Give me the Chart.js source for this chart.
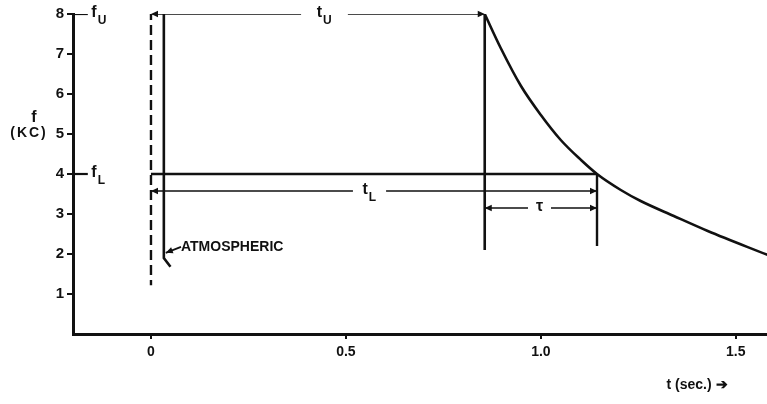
<!DOCTYPE html>
<html>
<head>
<meta charset="utf-8">
<script src="https://cdn.jsdelivr.net/npm/chart.js"></script>
<style>
  html, body { margin: 0; padding: 0; background: #fff; }
  #wrap { width: 767px; height: 404px; }
</style>
</head>
<body>
<div id="wrap"><canvas id="c" width="767" height="404"></canvas></div>
<script>
// --- values ---
const xTicks = [0, 0.5, 1.0, 1.5];
const xTickLabels = ['0', '0.5', '1.0', '1.5'];
const yTicks = [1, 2, 3, 4, 5, 6, 7, 8];

const fU = 8;          // upper frequency (kc)
const fL = 4;          // lower frequency (kc)
const tU = 0.856;      // arrival time at fU (s)
const tL = 1.144;      // arrival time at fL (s)

// dispersion curve (t, f)
const curveT = [0.856, 0.897, 0.949, 1.0, 1.051, 1.103, 1.144, 1.205, 1.256, 1.341, 1.428, 1.582];
const curveF = [8.0, 7.15, 6.2, 5.475, 4.85, 4.35, 4.0, 3.6, 3.325, 2.95, 2.575, 1.975];

// dashed reference line at t = 0
const dashT = [0, 0];
const dashF = [8.1, 1.22];

// atmospheric (source impulse) trace
const atmosT = [0.033, 0.033, 0.05];
const atmosF = [8.0, 1.9, 1.68];
const pointerT = [0.038, 0.077];
const pointerF = [2.03, 2.18];

// measuring arrows: y level and gap left for the label
const tUArrowF = 8.0,  tUGap = [0.385, 0.505];
const tLArrowF = 3.575, tLGap = [0.518, 0.603];
const tauArrowF = 3.15, tauGap = [0.967, 1.026];

const pts = (xs, ys) => xs.map((x, i) => ({ x: x, y: ys[i] }));
const arrowLine = (x0, x1, y, gap) => [
  { x: x0, y: y }, { x: gap[0], y: y }, { x: (gap[0] + gap[1]) / 2, y: null },
  { x: gap[1], y: y }, { x: x1, y: y }
];

Chart.defaults.font.family = "'Liberation Sans', Arial, sans-serif";
Chart.defaults.color = '#000';

const ink = '#111';

const datasets = [
  { data: pts(curveT, curveF), borderWidth: 2.6, cubicInterpolationMode: 'monotone' },
  { data: pts(dashT, dashF), borderWidth: 2.4, borderDash: [10, 5] },
  { data: pts(atmosT, atmosF), borderWidth: 2.6 },
  { data: pts(pointerT, pointerF), borderWidth: 1.8, arrowStart: true },
  { data: [{ x: tU, y: 8.15 }, { x: tU, y: 2.1 }], borderWidth: 2.6 },
  { data: [{ x: tL, y: fL }, { x: tL, y: 2.2 }], borderWidth: 2.4 },
  { data: [{ x: 0, y: fL }, { x: tL, y: fL }], borderWidth: 2.6 },
  { data: [{ x: -0.2, y: fU }, { x: -0.162, y: fU }], borderWidth: 2.2 },
  { data: [{ x: -0.2, y: fL }, { x: -0.162, y: fL }], borderWidth: 2.2 },
  { data: arrowLine(0, tU, tUArrowF, tUGap), borderWidth: 1.6, arrowStart: true, arrowEnd: true },
  { data: arrowLine(0, tL, tLArrowF, tLGap), borderWidth: 1.6, arrowStart: true, arrowEnd: true },
  { data: arrowLine(tU, tL, tauArrowF, tauGap), borderWidth: 1.6, arrowStart: true, arrowEnd: true }
].map(d => Object.assign({ showLine: true, borderColor: ink, pointRadius: 0, spanGaps: false, fill: false }, d));

// text labels placed in data coordinates
const labels = [
  { x: -0.153, y: fU, main: 'f', sub: 'U', align: 'left' },
  { x: -0.153, y: fL, main: 'f', sub: 'L', align: 'left' },
  { x: 0.4445, y: tUArrowF, main: 't', sub: 'U', align: 'center' },
  { x: 0.560, y: tLArrowF, main: 't', sub: 'L', align: 'center' },
  { x: 0.9965, y: tauArrowF, main: '\u03C4', sub: '', align: 'center' }
];

function drawArrow(ctx, tip, from) {
  const dx = tip.x - from.x, dy = tip.y - from.y;
  const len = Math.hypot(dx, dy) || 1;
  const ux = dx / len, uy = dy / len;
  const L = 7, W = 3.2;
  ctx.beginPath();
  ctx.moveTo(tip.x, tip.y);
  ctx.lineTo(tip.x - ux * L - uy * W, tip.y - uy * L + ux * W);
  ctx.lineTo(tip.x - ux * L + uy * W, tip.y - uy * L - ux * W);
  ctx.closePath();
  ctx.fill();
}

const annotate = {
  id: 'annotate',
  afterDatasetsDraw(chart) {
    const { ctx, scales: { x, y } } = chart;
    ctx.save();
    ctx.fillStyle = ink;

    // arrowheads
    chart.data.datasets.forEach((ds, i) => {
      const els = chart.getDatasetMeta(i).data.filter((e, k) => ds.data[k].y !== null);
      if (ds.arrowStart) drawArrow(ctx, els[0], els[1]);
      if (ds.arrowEnd) drawArrow(ctx, els[els.length - 1], els[els.length - 2]);
    });

    // f_U, f_L, t_U, t_L, tau
    ctx.textBaseline = 'middle';
    labels.forEach(l => {
      const px = x.getPixelForValue(l.x), py = y.getPixelForValue(l.y);
      ctx.font = 'bold 16px "Liberation Sans", Arial, sans-serif';
      const mw = ctx.measureText(l.main).width;
      ctx.font = 'bold 12px "Liberation Sans", Arial, sans-serif';
      const sw = l.sub ? ctx.measureText(l.sub).width + 1 : 0;
      let left = px;
      if (l.align === 'center') left = px - (mw + sw) / 2;
      ctx.textAlign = 'left';
      ctx.font = 'bold 16px "Liberation Sans", Arial, sans-serif';
      ctx.fillText(l.main, left, py - 1);
      if (l.sub) {
        ctx.font = 'bold 12px "Liberation Sans", Arial, sans-serif';
        ctx.fillText(l.sub, left + mw + 1, py + 7);
      }
    });

    // ATMOSPHERIC
    const ax = x.getPixelForValue(0.077), ay = y.getPixelForValue(2.18);
    ctx.font = 'bold 14px "Liberation Sans", Arial, sans-serif';
    ctx.textAlign = 'left';
    ctx.fillText('ATMOSPHERIC', ax, ay);

    // axis titles
    ctx.textAlign = 'center';
    ctx.font = 'bold 16px "Liberation Sans", Arial, sans-serif';
    ctx.fillText('f', 34, 118);
    ctx.font = 'bold 14px "Liberation Sans", Arial, sans-serif';
    ctx.letterSpacing = '2px';
    ctx.fillText('(KC)', 29, 133);
    ctx.letterSpacing = '0px';
    ctx.font = 'bold 14px "Liberation Sans", Arial, sans-serif';
    ctx.fillText('t (sec.) \u2794', 697, 385);
    ctx.restore();
  }
};

new Chart(document.getElementById('c'), {
  type: 'scatter',
  data: { datasets: datasets },
  options: {
    responsive: false,
    animation: false,
    layout: { padding: { top: 14, right: 0, left: 0, bottom: 0 } },
    plugins: { legend: { display: false }, tooltip: { enabled: false } },
    scales: {
      x: {
        type: 'linear', min: -0.2, max: 1.58,
        afterBuildTicks: s => { s.ticks = xTicks.map(v => ({ value: v })); },
        afterFit: s => { s.height = 70; },
        ticks: {
          autoSkip: false, maxRotation: 0, padding: 5,
          font: { size: 14, weight: 'bold' }, color: ink,
          callback: (v, i) => xTickLabels[i]
        },
        grid: { drawOnChartArea: false, drawTicks: true, tickLength: 5, color: ink, lineWidth: 2 },
        border: { display: true, color: ink, width: 3 }
      },
      y: {
        type: 'linear', min: 0, max: 8,
        afterBuildTicks: s => { s.ticks = yTicks.map(v => ({ value: v })); },
        afterFit: s => { s.width = 73; },
        ticks: { padding: 3, font: { size: 15, weight: 'bold' }, color: ink },
        grid: { drawOnChartArea: false, drawTicks: true, tickLength: 6, color: ink, lineWidth: 2 },
        border: { display: true, color: ink, width: 3 }
      }
    }
  },
  plugins: [annotate]
});
</script>
</body>
</html>
